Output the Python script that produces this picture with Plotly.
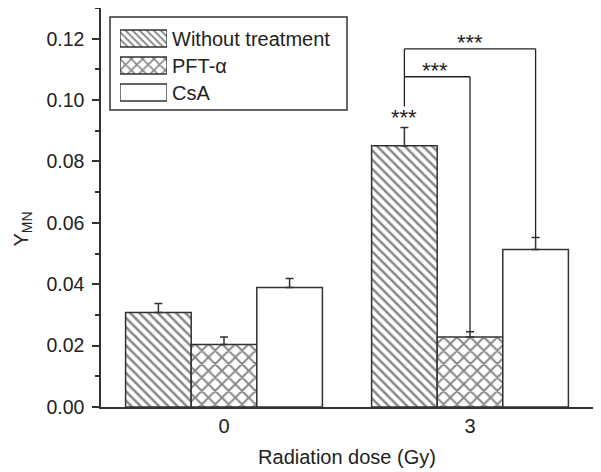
import plotly.graph_objects as go

# ---- data ----
doses = ["0", "3"]
series_names = ["Without treatment", "PFT-α", "CsA"]
without_treatment = [0.0308, 0.0851]
without_treatment_err = [0.0029, 0.0060]
pft_alpha = [0.0204, 0.0228]
pft_alpha_err = [0.0024, 0.0017]
csa = [0.0389, 0.0513]
csa_err = [0.0030, 0.0039]

# significance brackets (dose "3" group): from Without-treatment bar to PFT-α / CsA
sig_label = "***"
bracket_upper_y = 0.1167   # to CsA
bracket_lower_y = 0.1076   # to PFT-α
bracket_start_y = 0.0979   # top of vertical above Without-treatment bar

FONT = "Liberation Sans, Arial, sans-serif"
LINE = "#333333"

# page has an 8px body margin; figure geometry compensates for it
PAGE_OFF = 8
PLOT_L, PLOT_T, PLOT_W, PLOT_H = 101, 8, 492, 399   # plot area in page pixels


def px_to_paper_x(px):
    return (px - PLOT_L) / PLOT_W


def px_to_paper_y(py):
    return (PLOT_T + PLOT_H - py) / PLOT_H


values = [without_treatment, pft_alpha, csa]
errors = [without_treatment_err, pft_alpha_err, csa_err]
shapes_pat = ["\\", "x", ""]
sizes_pat = [6.5, 9.5, 8]

fig = go.Figure()
for name, v, e, sh, sz in zip(series_names, values, errors, shapes_pat, sizes_pat):
    fig.add_trace(go.Bar(
        name=name, x=doses, y=v,
        marker=dict(color="white",
                    line=dict(color=LINE, width=1.5),
                    pattern=dict(shape=sh, size=sz, solidity=0.38,
                                 fgcolor="#111111", bgcolor="white", fillmode="overlay")),
        error_y=dict(type="data", array=e, arrayminus=[0] * len(e), symmetric=False,
                     color=LINE, thickness=1.5, width=4),
        showlegend=False,
    ))

# custom legend drawn as horizontal bars on a small helper subplot
fig.add_trace(go.Bar(
    x=[1, 1, 1], y=series_names, orientation="h", base=0, width=0.63,
    marker=dict(color="white", line=dict(color=LINE, width=1.3),
                pattern=dict(shape=shapes_pat, size=[5, 8, 8], solidity=0.38,
                             fgcolor="#111111", bgcolor="white", fillmode="overlay")),
    xaxis="x2", yaxis="y2", showlegend=False, hoverinfo="skip",
))

# bar centre positions in category units (3 bars filling 0.8 of the slot)
bw = 0.8 / 3
g = 1  # dose "3" index
x_wt, x_pft, x_csa = g - bw, g, g + bw
top_pft = pft_alpha[1] + pft_alpha_err[1]
top_csa = csa[1] + csa_err[1]

line_style = dict(color="#222", width=1.3)
shapes = [
    # legend frame
    dict(type="rect", xref="paper", yref="paper",
         x0=px_to_paper_x(110), x1=px_to_paper_x(347), y0=px_to_paper_y(110), y1=px_to_paper_y(17),
         line=dict(color=LINE, width=1.5), fillcolor="rgba(0,0,0,0)"),
    dict(type="line", xref="x", yref="y", x0=x_wt, x1=x_wt, y0=bracket_start_y, y1=bracket_upper_y, line=line_style),
    dict(type="line", xref="x", yref="y", x0=x_wt, x1=x_csa, y0=bracket_upper_y, y1=bracket_upper_y, line=line_style),
    dict(type="line", xref="x", yref="y", x0=x_csa, x1=x_csa, y0=bracket_upper_y, y1=top_csa, line=line_style),
    dict(type="line", xref="x", yref="y", x0=x_wt, x1=x_pft, y0=bracket_lower_y, y1=bracket_lower_y, line=line_style),
    dict(type="line", xref="x", yref="y", x0=x_pft, x1=x_pft, y0=bracket_lower_y, y1=top_pft, line=line_style),
]

star_font = dict(family=FONT, size=22, color="#222")
annotations = [
    dict(x=(x_wt + x_csa) / 2, y=bracket_upper_y, xref="x", yref="y", text=sig_label,
         showarrow=False, font=star_font, yanchor="bottom", yshift=-8),
    dict(x=(x_wt + x_pft) / 2 - 0.01, y=bracket_lower_y, xref="x", yref="y", text=sig_label,
         showarrow=False, font=star_font, yanchor="bottom", yshift=-8),
    dict(x=x_wt, y=without_treatment[1] + without_treatment_err[1], xref="x", yref="y", text=sig_label,
         showarrow=False, font=star_font, yanchor="bottom", yshift=-5),
    dict(x=px_to_paper_x(PAGE_OFF), y=px_to_paper_y(229), xref="paper", yref="paper",
         text="Y<sub>MN</sub>", showarrow=False, xanchor="left", yanchor="middle",
         font=dict(family=FONT, size=20, color="#222"), textangle=-90, borderpad=0),
]

fig.update_layout(
    width=601 - PAGE_OFF, height=464,
    margin=dict(l=PLOT_L - PAGE_OFF, r=8, t=PLOT_T - PAGE_OFF, b=464 - (PLOT_T - PAGE_OFF) - PLOT_H,
                autoexpand=False),
    paper_bgcolor="white", plot_bgcolor="white",
    barmode="group", bargap=0.2, bargroupgap=0,
    font=dict(family=FONT, size=20, color="#222"),
    showlegend=False,
    shapes=shapes, annotations=annotations,
    xaxis=dict(type="category", categoryorder="array", categoryarray=doses,
               range=[-0.5, 1.5], showline=True, mirror=True, linecolor=LINE, linewidth=1.5,
               ticks="", showgrid=False, zeroline=False,
               tickfont=dict(family=FONT, size=20, color="#222"),
               title=dict(text="Radiation dose (Gy)", standoff=14,
                          font=dict(family=FONT, size=20, color="#222"))),
    yaxis=dict(range=[0, 0.13], dtick=0.02, tick0=0, tickformat=".2f",
               showline=True, mirror=True, linecolor=LINE, linewidth=1.5,
               ticks="outside", ticklen=7, tickwidth=1.5, tickcolor=LINE,
               minor=dict(ticks="outside", ticklen=4, dtick=0.01, tickwidth=1.5, tickcolor=LINE,
                          showgrid=False),
               showgrid=False, zeroline=False, ticklabelstandoff=4,
               tickfont=dict(family=FONT, size=19.5, color="#222")),
    xaxis2=dict(domain=[px_to_paper_x(120), px_to_paper_x(167)], anchor="y2", range=[0, 1],
                visible=False, fixedrange=True),
    yaxis2=dict(domain=[px_to_paper_y(106), px_to_paper_y(25)], anchor="x2", side="right",
                type="category", categoryorder="array", categoryarray=series_names,
                range=[2.5, -0.5], showline=False, ticks="", showgrid=False, zeroline=False,
                ticklabelstandoff=4, fixedrange=True,
                tickfont=dict(family=FONT, size=20, color="#222")),
)

fig.write_html("out.html")
